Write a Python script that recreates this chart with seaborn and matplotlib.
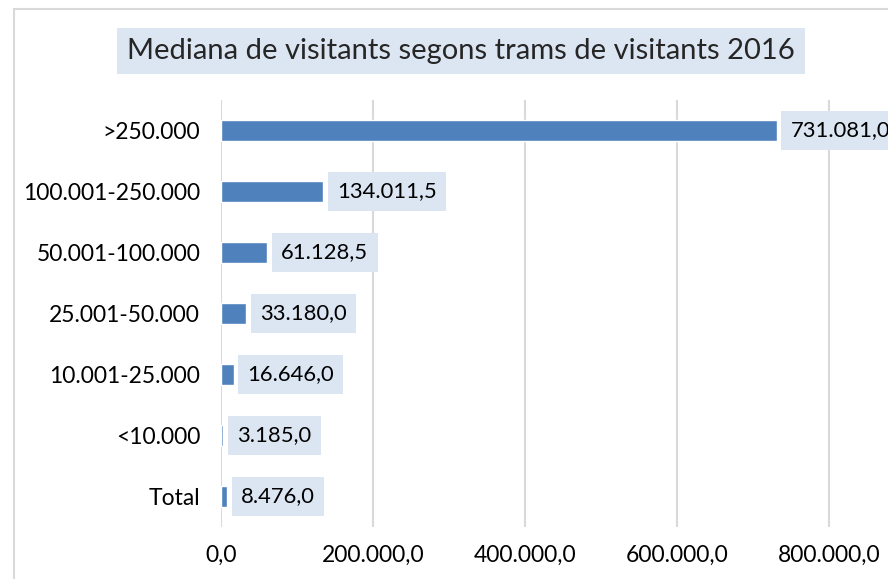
import seaborn as sns
import matplotlib.pyplot as plt
from matplotlib.patches import Rectangle
from matplotlib.ticker import FuncFormatter
import pandas as pd

categories = ['>250.000', '100.001-250.000', '50.001-100.000', '25.001-50.000',
              '10.001-25.000', '<10.000', 'Total']
values = [731081.0, 134011.5, 61128.5, 33180.0, 16646.0, 3185.0, 8476.0]
xticks = [0, 200000, 400000, 600000, 800000]
title = 'Mediana de visitants segons trams de visitants 2016'


def cat_fmt(v, pos=None):
    s = '{:,.1f}'.format(v)
    return s.replace(',', 'X').replace('.', ',').replace('X', '.')


sns.set_style('white')
plt.rcParams['font.family'] = ['Lato', 'DejaVu Sans']

df = pd.DataFrame({'tram': categories, 'visitants': values})

fig = plt.figure(figsize=(8.88, 5.79), dpi=100)
W, H = 888, 579
# axes: x=0 at px 221, 200k per 152 px; y from 100 to 527
ax = fig.add_axes([221 / W, 1 - 527 / H, 684 / W, 427 / H])

sns.barplot(data=df, y='tram', x='visitants', orient='h', color='#4F81BD',
            saturation=1, width=0.33, ax=ax)

ax.set_xlim(0, 900000)
ax.set_xticks(xticks)
ax.xaxis.set_major_formatter(FuncFormatter(cat_fmt))
ax.grid(axis='x', color='#D9D9D9', linewidth=1.5)
ax.set_axisbelow(True)
for s in ax.spines.values():
    s.set_visible(False)
ax.set_xlabel('')
ax.set_ylabel('')
ax.tick_params(axis='x', length=0, pad=13, labelsize=16.5, colors='#000000')
ax.tick_params(axis='y', length=0, pad=15, labelsize=16.5, colors='#000000')

for i, v in enumerate(values):
    ax.annotate(cat_fmt(v), xy=(v, i), xytext=(10, 0), textcoords='offset points',
                va='center', ha='left', fontsize=15.8, color='#000000',
                bbox=dict(boxstyle='square,pad=0.42', fc='#DCE6F2', ec='none'),
                annotation_clip=False)

fig.text(461 / W, 1 - 51 / H, title, ha='center', va='center', fontsize=21,
         bbox=dict(boxstyle='square,pad=0.35', fc='#DCE6F2', ec='none'))

# chart area border
fig.patches.append(Rectangle((14 / W, -0.1), 1.2, 1 - 9 / H + 0.1,
                             transform=fig.transFigure, fill=False,
                             ec='#D9D9D9', lw=1.5))

fig.savefig('out.png', dpi=100)
